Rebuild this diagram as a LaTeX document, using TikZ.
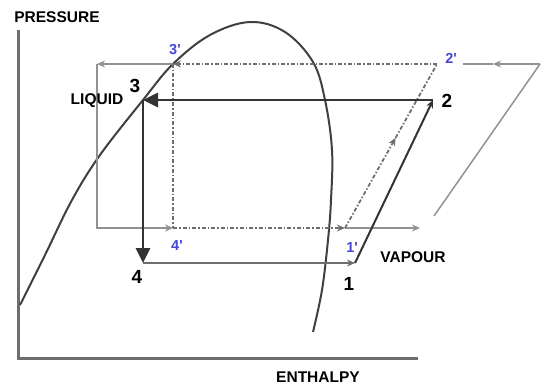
\documentclass[tikz,border=0pt]{standalone}
\usepackage{fontspec}
\setmainfont{Liberation Sans}
\usepackage{xcolor}
\usetikzlibrary{arrows.meta,calc}
\definecolor{ptblue}{RGB}{70,70,215}
\definecolor{ptgray}{RGB}{110,110,110}
\begin{document}
\begin{tikzpicture}[x=1pt,y=-1pt,
    lab/.style={font=\bfseries\fontsize{15.5}{17}\selectfont},
    num/.style={font=\bfseries\fontsize{19}{20}\selectfont},
    blu/.style={text=ptblue,font=\bfseries\fontsize{14.5}{16}\selectfont},
    dashdot/.style={ptgray,line width=1.8pt,dash pattern=on 4pt off 2pt on 1.5pt off 2pt},
    guide/.style={ptgray!75,line width=1.5pt},
    tip/.style={-{Stealth[length=8pt,width=7pt]}},
    bigtip/.style={-{Triangle[length=15pt,width=14pt]}}]
  \useasboundingbox (0,0) rectangle (545,385);
  % points of the two cycles
  \coordinate (p3) at (143,100);
  \coordinate (p2) at (433,100);
  \coordinate (p4) at (143,263);
  \coordinate (p1) at (355,263);
  \coordinate (q3) at (173,64);
  \coordinate (q2) at (437,64);
  \coordinate (q4) at (173,228);
  \coordinate (q1) at (345,228);
  \coordinate (o3) at (97,64);
  \coordinate (o4) at (97,228);
  \coordinate (r2) at (540,64);
  \coordinate (r1) at (434,216);
  % axes
  \draw[ptgray,line width=3pt] (18,30)--(18,358)--(418,358);
  \node[lab] (pres) at (57,17) {PRESSURE};
  \node[lab] (enth) at (318,377) {ENTHALPY};
  % saturation dome
  \draw[black!75,line width=2pt] plot[smooth,tension=0.6] coordinates {
    (20,305) (45,255) (72,200) (100,155) (p3) (q3) (210,35) (250,22)
    (285,32) (313,62) (325,100) (332,150) (331,200) (328,240) (322,290) (313,332)};
  % outer guide lines
  \draw[guide,tip] (q3)--(o3);
  \draw[guide,tip] (o3)--(o4)--(q4);
  \draw[guide,tip] (r2)--(493,64);
  \draw[guide] (493,64)--(463,64);
  \draw[guide] (r2)--(r1);
  \draw[guide,tip] (q1)--(420,228);
  % modified cycle
  \draw[dashdot,tip] (q2)--(q3);
  \draw[dashdot] (q3)--(q4);
  \draw[dashdot,tip] (q4)--(q1);
  \draw[dashdot,tip] (q1)--($(q1)!0.55!(q2)$);
  \draw[dashdot] ($(q1)!0.55!(q2)$)--(q2);
  % basic cycle
  \draw[black!80,line width=2.6pt,bigtip] (p2)--(p3);
  \draw[black!80,line width=2.6pt,bigtip] (p3)--(p4);
  \draw[ptgray,line width=2.6pt,tip] (p4)--(p1);
  \draw[black!80,line width=2pt,tip] (p1)--(p2);
  % labels
  \node[num] (l3) at (135,86) {3};
  \node[lab] (liq) at (97,101) {LIQUID};
  \node[num] (l2) at (447,101) {2};
  \node[num] (l4) at (137,277) {4};
  \node[num] (l1) at (349,284) {1};
  \node[lab] (vap) at (413,257) {VAPOUR};
  \node[blu] (m3) at (175,50) {3\textquotesingle};
  \node[blu] (m2) at (451,58) {2\textquotesingle};
  \node[blu] (m4) at (177,246) {4\textquotesingle};
  \node[blu] (m1) at (352,248) {1\textquotesingle};
\end{tikzpicture}
\end{document}
